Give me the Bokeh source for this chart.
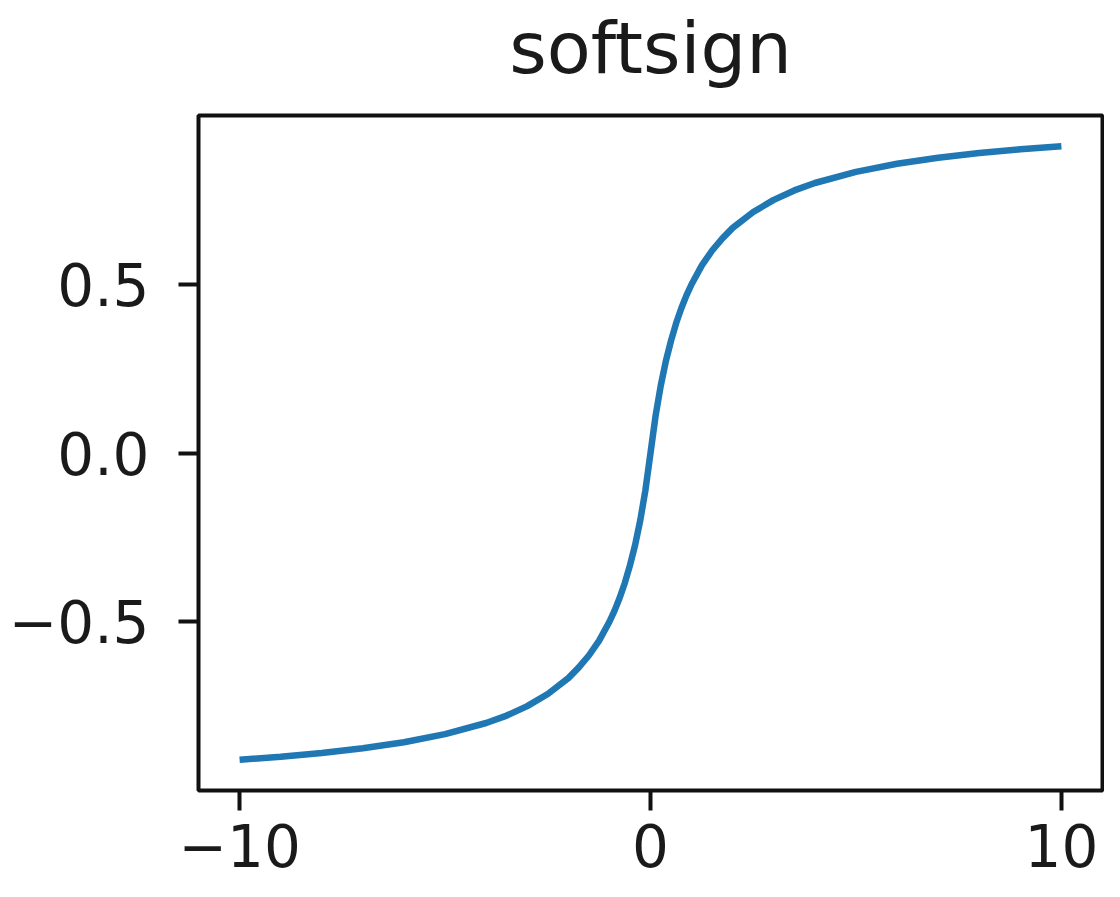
from bokeh.plotting import figure
from bokeh.models import Range1d, FixedTicker, CustomJSTickFormatter, LinearAxis
from bokeh.embed import file_html
from bokeh.resources import INLINE

title_text = "softsign"
x_vals = [-10, -9, -8, -7, -6, -5, -4, -3.5, -3, -2.5, -2, -1.75, -1.5, -1.25, -1,
          -0.875, -0.75, -0.625, -0.5, -0.375, -0.25, -0.125, 0,
          0.125, 0.25, 0.375, 0.5, 0.625, 0.75, 0.875, 1,
          1.25, 1.5, 1.75, 2, 2.5, 3, 3.5, 4, 5, 6, 7, 8, 9, 10]
y_vals = [-0.909, -0.900, -0.889, -0.875, -0.857, -0.833, -0.800, -0.778, -0.750, -0.714, -0.667, -0.636, -0.600, -0.556, -0.500,
          -0.467, -0.429, -0.385, -0.333, -0.273, -0.200, -0.111, 0.0,
          0.111, 0.200, 0.273, 0.333, 0.385, 0.429, 0.467, 0.500,
          0.556, 0.600, 0.636, 0.667, 0.714, 0.750, 0.778, 0.800, 0.833, 0.857, 0.875, 0.889, 0.900, 0.909]
x_ticks = [-10, 0, 10]
y_ticks = [-0.5, 0.0, 0.5]

FONT = "DejaVu Sans"
TXT = "#1a1a1a"

W, H = 1104, 881
BL, BR, BT, BB = 198, 2, 115, 91
X0, X1, Y0, Y1 = -11, 11, -1.0, 1.0

p = figure(width=W, height=H, output_backend="svg", toolbar_location=None,
           x_range=Range1d(X0, X1), y_range=Range1d(Y0, Y1),
           min_border_left=BL, min_border_right=BR, min_border_top=BT, min_border_bottom=BB)

p.line(x_vals, y_vals, line_color="#1f77b4", line_width=6.5)

p.xgrid.visible = False
p.ygrid.visible = False
p.background_fill_color = "white"
p.border_fill_color = "white"
p.outline_line_color = "#111111"
p.outline_line_width = 4

xax = p.below[0]
yax = p.left[0]
for ax in (xax, yax):
    ax.axis_line_color = None
    ax.major_tick_in = 0
    ax.major_tick_out = 20
    ax.major_tick_line_width = 4
    ax.major_tick_line_color = "#111111"
    ax.minor_tick_line_color = None
    ax.major_label_text_font = FONT
    ax.major_label_text_font_size = "58px"
    ax.major_label_text_color = TXT

xax.ticker = FixedTicker(ticks=x_ticks)
yax.ticker = FixedTicker(ticks=y_ticks)
xax.major_label_standoff = 13
yax.major_label_standoff = 29
xax.formatter = CustomJSTickFormatter(code='return (tick < 0 ? "\\u2212" : "") + Math.abs(tick).toFixed(0);')
yax.formatter = CustomJSTickFormatter(code='return (tick < 0 ? "\\u2212" : "") + Math.abs(tick).toFixed(1);')

# chart title, drawn as the single label of a tick-less axis centred above the frame
title_axis = LinearAxis(ticker=FixedTicker(ticks=[(X0 + X1) / 2]),
                        formatter=CustomJSTickFormatter(code='return "%s";' % title_text),
                        axis_line_color=None, major_tick_line_color=None, minor_tick_line_color=None,
                        major_tick_in=0, major_tick_out=0, major_label_standoff=26,
                        major_label_text_font=FONT, major_label_text_font_size="72px",
                        major_label_text_color=TXT)
p.add_layout(title_axis, "above")

open("out.html", "w").write(file_html(p, INLINE))
